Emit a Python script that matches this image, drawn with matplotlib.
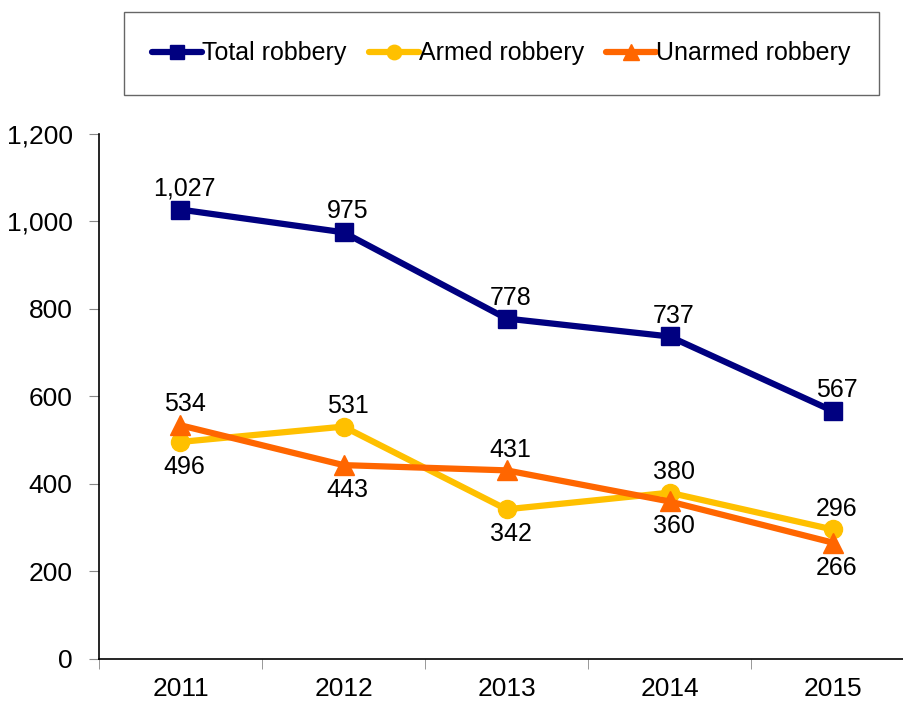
import numpy as np
import matplotlib.pyplot as plt
from matplotlib.patches import Rectangle
from matplotlib.ticker import FuncFormatter, FixedLocator

# =============================
# DATA
# =============================
years = ["2011", "2012", "2013", "2014", "2015"]
total = [1027, 975, 778, 737, 567]
armed = [496, 531, 342, 380, 296]
unarmed = [534, 443, 431, 360, 266]

# where each value label sits relative to its point
total_pos = ["above", "above", "above", "above", "above"]
armed_pos = ["below", "above", "below", "above", "above"]
unarmed_pos = ["above", "below", "above", "below", "below"]

plt.rcParams["font.family"] = ["Liberation Sans", "DejaVu Sans"]

fig = plt.figure(figsize=(9.04, 7.02), dpi=100)
ax = fig.add_axes([0.1095, 0.0613, 0.9016, 0.748])

x = np.arange(len(years))

series = [
    ("Total robbery", total, "#000080", "s", 13, total_pos),
    ("Armed robbery", armed, "#FFC000", "o", 13, armed_pos),
    ("Unarmed robbery", unarmed, "#FF6600", "^", 14, unarmed_pos),
]

for name, vals, color, marker, ms, pos in series:
    ax.plot(x, vals, color=color, lw=4.5, marker=marker, ms=ms,
            label=name, solid_capstyle="round")
    for xi, v, p in zip(x, vals, pos):
        dy = 15 if p == "above" else -18
        ax.annotate(f"{v:,}", (xi, v), xytext=(3, dy), textcoords="offset points",
                    ha="center", va="center", fontsize=18)

ax.set_xlim(-0.5, 4.5)
ax.set_ylim(0, 1200)
ax.set_yticks(np.arange(0, 1201, 200))
ax.yaxis.set_major_formatter(FuncFormatter(lambda v, p: f"{int(v):,}"))
ax.set_xticks(x)
ax.set_xticklabels(years)
ax.xaxis.set_minor_locator(FixedLocator(np.arange(-0.5, 5, 1)))
ax.tick_params(axis="x", which="major", length=0, pad=13, labelsize=19)
ax.tick_params(axis="x", which="minor", length=7, color="#888888", direction="out")
ax.tick_params(axis="y", length=7, color="#888888", direction="out", pad=12, labelsize=19)

for side in ["top", "right"]:
    ax.spines[side].set_visible(False)
ax.spines["left"].set_linewidth(1.2)
ax.spines["bottom"].set_linewidth(1.2)

# legend box
fig.patches.append(Rectangle((0.137, 0.865), 0.835, 0.118, transform=fig.transFigure,
                             facecolor="white", edgecolor="#666666", lw=1.0))
leg = fig.legend(loc="center", bbox_to_anchor=(0.5545, 0.924),
                 ncol=3, fontsize=18, frameon=False,
                 handlelength=2.0, handletextpad=0.0, columnspacing=0.9,
                 markerscale=0.8)

plt.savefig("out.png", dpi=100)
